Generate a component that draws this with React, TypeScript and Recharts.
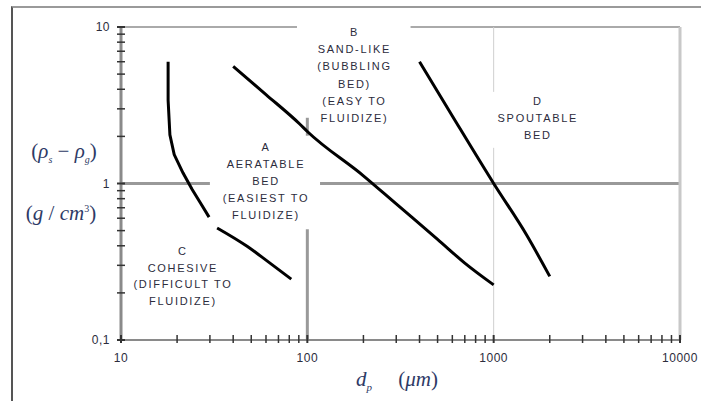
import React from "react";
import { LineChart, Line, XAxis, YAxis, ReferenceLine, ReferenceDot } from "recharts";

// tick values (log axes)
const xTicks = [10, 20, 30, 40, 50, 60, 70, 80, 90, 100, 200, 300, 400, 500, 600, 700, 800, 900,
  1000, 2000, 3000, 4000, 5000, 6000, 7000, 8000, 9000, 10000];
const xLabeled = [10, 100, 1000, 10000];
const yTicks = [0.1, 0.2, 0.3, 0.4, 0.5, 0.6, 0.7, 0.8, 0.9, 1, 2, 3, 4, 5, 6, 7, 8, 9, 10];
const yLabeled = [0.1, 1, 10];

// group boundaries
const cohesiveUpper = [
  { x: 17.9, y: 6 }, { x: 17.9, y: 3.4 }, { x: 18.3, y: 2.05 }, { x: 19.3, y: 1.53 },
  { x: 21.5, y: 1.17 }, { x: 24.1, y: 0.915 }, { x: 26.6, y: 0.757 }, { x: 29.7, y: 0.61 },
];
const cohesiveLower = [
  { x: 32.8, y: 0.52 }, { x: 47.5, y: 0.397 }, { x: 61, y: 0.319 }, { x: 82, y: 0.245 },
];
const aToB = [
  { x: 40, y: 5.6 }, { x: 60, y: 3.7 }, { x: 91, y: 2.4 }, { x: 100, y: 2.15 }, { x: 200, y: 1.12 },
  { x: 300, y: 0.74 }, { x: 500, y: 0.44 }, { x: 700, y: 0.31 }, { x: 1000, y: 0.225 },
];
const bToD = [
  { x: 400, y: 6 }, { x: 600, y: 2.7 }, { x: 1000, y: 1.0 }, { x: 1500, y: 0.47 }, { x: 2000, y: 0.255 },
];

// partial grid lines (broken where the labels sit)
const topLine = [[10, 88], [358, 10000]];
const unitLine = [[10, 30], [117, 10000]];
const line100 = [[0.1, 0.51], [2.02, 2.63]];
const line1000 = [[0.1, 1.69], [3.85, 10]];

const zoneA = ["A", "AERATABLE", "BED", "(EASIEST TO", "FLUIDIZE)"];
const zoneB = ["B", "SAND-LIKE", "(BUBBLING", "BED)", "(EASY TO", "FLUIDIZE)"];
const zoneC = ["C", "COHESIVE", "(DIFFICULT TO", "FLUIDIZE)"];
const zoneD = ["D", "SPOUTABLE", "BED"];
const zones = [
  { lines: zoneA, x: 60, y: 1.72, lh: 17 },
  { lines: zoneB, x: 179, y: 9.3, lh: 17.2 },
  { lines: zoneC, x: 21.5, y: 0.37, lh: 16.7 },
  { lines: zoneD, x: 1726, y: 3.38, lh: 17 },
];

const textColor = "#2c2c3c";
const sans = "'Liberation Sans', Arial, sans-serif";
const serif = "'Liberation Serif', 'Times New Roman', serif";

const XTick = (p: any) => {
  const v = p.payload.value;
  const major = xLabeled.includes(v);
  return (
    <g>
      <line x1={p.x} x2={p.x} y1={p.y - 5} y2={p.y + 3} stroke="#333" strokeWidth={major ? 2 : 1.5} />
      {major && (
        <text x={p.x} y={p.y + 18} textAnchor="middle" dominantBaseline="central"
          fontSize={12} letterSpacing={0.5} fontFamily={sans} fill={textColor}>{v}</text>
      )}
    </g>
  );
};

const YTick = (p: any) => {
  const v = p.payload.value;
  const major = yLabeled.includes(v);
  return (
    <g>
      <line x1={p.x - 4} x2={p.x + 4} y1={p.y} y2={p.y} stroke="#333" strokeWidth={major ? 2 : 1.5} />
      {major && (
        <text x={p.x - 11} y={p.y} textAnchor="end" dominantBaseline="central"
          fontSize={12} letterSpacing={0.5} fontFamily={sans} fill={textColor}>{String(v).replace(".", ",")}</text>
      )}
    </g>
  );
};

const ZoneText = ({ cx, cy, lines, lh }: any) => (
  <g>
    {lines.map((t: string, i: number) => (
      <text key={i} x={cx} y={cy + i * lh} textAnchor="middle" dominantBaseline="central"
        fontSize={11} letterSpacing={1.7} fontFamily={sans} fill={textColor}>{t}</text>
    ))}
  </g>
);

const curveProps = {
  dataKey: "y", stroke: "#000", strokeWidth: 3, dot: false,
  isAnimationActive: false, legendType: "none" as const,
};

export default function App() {
  return (
    <div style={{ position: "absolute", left: 0, top: 0, width: 701, height: 401, background: "#fff", overflow: "hidden" }}>
      <div style={{ position: "absolute", left: 11, top: 6, width: 690, height: 395, borderTop: "2px solid #9a9a9a", borderLeft: "2px solid #555" }} />
      <div style={{ position: "absolute", left: 0, top: 0 }}>
        <LineChart width={701} height={401} margin={{ top: 27, right: 21, bottom: 31, left: 11 }}>
          <XAxis dataKey="x" type="number" scale="log" domain={[10, 10000]} ticks={xTicks} allowDataOverflow
            interval={0} tickSize={0} tickMargin={0} height={30} tick={XTick}
            axisLine={{ stroke: "#8a8a8a", strokeWidth: 2 }} tickLine={false} />
          <YAxis dataKey="y" type="number" scale="log" domain={[0.1, 10]} ticks={yTicks} allowDataOverflow
            interval={0} tickSize={0} tickMargin={0} width={110} tick={YTick}
            axisLine={{ stroke: "#8a8a8a", strokeWidth: 3 }} tickLine={false} />

          {topLine.map(([a, b], i) => (
            <ReferenceLine key={"t" + i} segment={[{ x: a, y: 10 }, { x: b, y: 10 }]} stroke="#aaa" strokeWidth={2} />
          ))}
          {unitLine.map(([a, b], i) => (
            <ReferenceLine key={"u" + i} segment={[{ x: a, y: 1 }, { x: b, y: 1 }]} stroke="#999" strokeWidth={3} />
          ))}
          {line100.map(([a, b], i) => (
            <ReferenceLine key={"h" + i} segment={[{ x: 100, y: a }, { x: 100, y: b }]} stroke="#999" strokeWidth={3} />
          ))}
          {line1000.map(([a, b], i) => (
            <ReferenceLine key={"k" + i} segment={[{ x: 1000, y: a }, { x: 1000, y: b }]} stroke="#cfcfcf" strokeWidth={1} />
          ))}
          <ReferenceLine segment={[{ x: 10000, y: 0.1 }, { x: 10000, y: 10 }]} stroke="#c8c8c8" strokeWidth={3} />

          <Line data={cohesiveUpper} type="linear" {...curveProps} />
          <Line data={cohesiveLower} type="monotone" {...curveProps} />
          <Line data={aToB} type="monotone" {...curveProps} />
          <Line data={bToD} type="monotone" {...curveProps} />

          {zones.map((z, i) => (
            <ReferenceDot key={"z" + i} x={z.x} y={z.y} r={0}
              shape={(p: any) => <ZoneText cx={p.cx} cy={p.cy} lines={z.lines} lh={z.lh} />} />
          ))}
        </LineChart>
      </div>
      <div style={{ position: "absolute", left: 64, top: 152, transform: "translate(-50%,-50%)", fontFamily: serif, fontSize: 21, color: "#2e3a66", whiteSpace: "nowrap" }}>
        (<i>ρ</i><sub style={{ fontSize: 10 }}><i>s</i></sub> − <i>ρ</i><sub style={{ fontSize: 10 }}><i>g</i></sub>)
      </div>
      <div style={{ position: "absolute", left: 61, top: 213, transform: "translate(-50%,-50%)", fontFamily: serif, fontSize: 21, color: "#2e3a66", whiteSpace: "nowrap" }}>
        (<i>g</i> / <i>cm</i><sup style={{ fontSize: 10 }}>3</sup>)
      </div>
      <div style={{ position: "absolute", left: 397, top: 380, transform: "translate(-50%,-50%)", fontFamily: serif, fontSize: 21, color: "#2e3a66", whiteSpace: "nowrap" }}>
        <i>d</i><sub style={{ fontSize: 11 }}><i>p</i></sub>&nbsp;&nbsp;&nbsp;&nbsp;&nbsp;(<i>μm</i>)
      </div>
    </div>
  );
}
